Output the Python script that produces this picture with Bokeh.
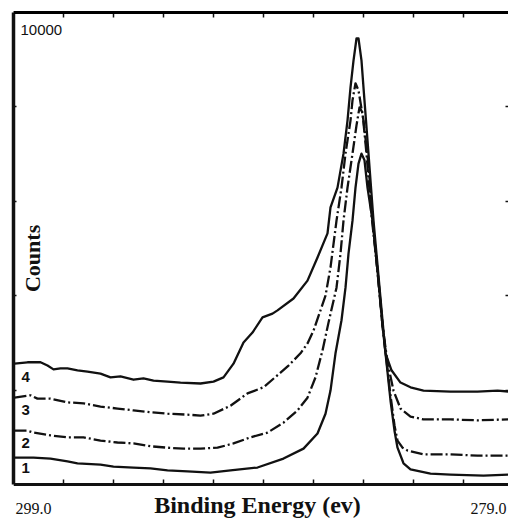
import math

from bokeh.embed import file_html
from bokeh.models import FixedTicker, Label, LinearAxis, Range1d, Span
from bokeh.plotting import figure
from bokeh.resources import INLINE

# C 1s spectra, binding energy (eV) vs counts, four stacked traces
energy_1 = [298.96, 298.2, 297.52, 296.84, 296.44, 295.52, 295.0, 294.2, 293.52, 292.84,
            292.04, 291.12, 290.32, 289.24, 288.2, 287.4, 286.84, 286.52, 286.32, 286.12,
            285.88, 285.72, 285.6, 285.44, 285.32, 285.2, 285.08, 284.96, 284.84, 284.64,
            284.4, 284.24, 284.08, 283.92, 283.76, 283.64, 283.4, 283.12, 282.32, 281.52,
            280.2, 279.2]
counts_1 = [570, 570, 550, 490, 450, 420, 380, 360, 340, 300,
            280, 250, 300, 360, 550, 760, 1080, 1500, 1990, 2780,
            3480, 4170, 4890, 5590, 6290, 6800, 7010, 6870, 6290, 5590,
            4320, 3370, 2590, 1780, 1140, 780, 450, 320, 230, 210,
            190, 210]

energy_2 = [298.96, 298.44, 298.2, 297.52, 296.84, 296.2, 295.52, 294.84, 294.2, 293.52,
            292.84, 292.2, 291.52, 290.84, 290.2, 289.52, 288.84, 288.2, 287.64, 287.24,
            286.92, 286.64, 286.4, 286.08, 285.92, 285.8, 285.64, 285.44, 285.28, 285.16,
            285.04, 284.88, 284.68, 284.44, 284.24, 284.08, 283.92, 283.76, 283.64, 283.44,
            283.24, 282.6, 281.52, 280.44, 279.2]
counts_2 = [1140, 1140, 1100, 1040, 1000, 1000, 930, 890, 870, 810,
            780, 760, 760, 780, 870, 1000, 1100, 1310, 1570, 1840,
            2270, 2840, 3430, 4170, 4890, 5590, 6290, 7010, 7610, 7990,
            7880, 7010, 5700, 4530, 3370, 2630, 1890, 1250, 930, 780,
            720, 640, 640, 610, 610]

energy_3 = [298.96, 298.32, 298.04, 297.52, 296.84, 296.2, 295.52, 294.84, 294.2, 293.52,
            292.84, 292.04, 291.52, 291.0, 290.32, 289.64, 289.0, 288.32, 288.0, 287.52,
            287.24, 287.0, 286.72, 286.52, 286.32, 286.08, 285.88, 285.72, 285.52, 285.44,
            285.32, 285.2, 285.0, 284.8, 284.6, 284.24, 284.04, 283.8, 283.52, 283.12,
            282.6, 281.52, 280.44, 279.2]
counts_3 = [1840, 1890, 1820, 1820, 1740, 1720, 1650, 1610, 1570, 1530,
            1500, 1480, 1460, 1500, 1670, 1930, 2060, 2370, 2520, 2780,
            2990, 3260, 3690, 4000, 4600, 5590, 6290, 7010, 7710, 8140,
            8500, 8350, 7710, 6760, 5420, 3370, 2590, 1990, 1610, 1440,
            1380, 1380, 1360, 1380]

energy_4 = [298.96, 298.44, 297.92, 297.64, 297.4, 297.12, 296.84, 296.44, 296.04, 295.52,
            295.12, 294.72, 294.2, 293.8, 293.4, 292.84, 292.32, 291.52, 291.0, 290.6,
            290.2, 289.8, 289.44, 289.04, 288.64, 288.44, 287.8, 287.24, 286.84, 286.44,
            286.32, 286.04, 285.8, 285.64, 285.52, 285.4, 285.28, 285.2, 285.08, 285.0,
            284.8, 284.6, 284.24, 284.12, 283.88, 283.52, 283.12, 282.6, 281.52, 280.44,
            279.64, 279.2]
counts_4 = [2560, 2590, 2590, 2520, 2440, 2460, 2460, 2420, 2390, 2350,
            2270, 2290, 2220, 2250, 2200, 2180, 2160, 2140, 2180, 2270,
            2560, 3010, 3220, 3540, 3620, 3690, 3940, 4320, 4810, 5320,
            5870, 6290, 7010, 7710, 8410, 8980, 9450, 9450, 8980, 8410,
            7010, 5590, 3480, 2780, 2420, 2160, 2060, 1990, 1970, 1970,
            1990, 1970]

trace_names = ["1", "2", "3", "4"]
x_ticks = [297, 295, 293, 291, 289, 287, 285, 283, 281]
y_ticks = [2000, 4000, 6000, 8000]
y_max = 10000
y_max_label = "10000"
x_start_label = "299.0"
x_end_label = "279.0"

INK = "#111111"

# the frame reaches past the 0..10000 box on every side so that the box edges
# and the energy-axis texts all lie inside it
p = figure(width=508, height=518,
           x_range=Range1d(299.0, 279.2), y_range=Range1d(-720, 10064),
           x_axis_location=None, y_axis_location=None,
           output_backend="svg", toolbar_location=None,
           min_border_left=13, min_border_right=0,
           min_border_top=9, min_border_bottom=0)
p.title.visible = False
p.outline_line_color = None
p.xgrid.grid_line_color = None
p.ygrid.grid_line_color = None
p.background_fill_color = "white"
p.border_fill_color = "white"


def frame_axis(side, ticks, line_width, line_alpha=1.0, tick_len=5, **extra):
    ax = LinearAxis(ticker=FixedTicker(ticks=ticks),
                    major_label_text_font_size="0px", major_label_standoff=0,
                    major_label_text_color=None,
                    major_tick_in=tick_len, major_tick_out=0,
                    minor_tick_in=0, minor_tick_out=0,
                    axis_line_color=INK, axis_line_width=line_width,
                    axis_line_alpha=line_alpha,
                    major_tick_line_color=INK, major_tick_line_width=1.5, **extra)
    p.add_layout(ax, side)
    return ax


frame_axis("below", x_ticks, 3, fixed_location=0)
frame_axis("above", x_ticks, 3, fixed_location=y_max)
frame_axis("left", y_ticks, 3.5, tick_len=3, bounds=(0, y_max))
frame_axis("right", y_ticks, 1, line_alpha=0.0, tick_len=3, bounds=(0, y_max))

# top edge of the box, drawn above everything else
p.add_layout(Span(location=y_max, dimension="width", line_color="#000000",
                  line_width=3, level="overlay"))

# traces: 1 and 4 solid, 2 and 3 dash-dot
series = [(energy_1, counts_1, "solid", "round"),
          (energy_2, counts_2, "12 3 2 3", "butt"),
          (energy_3, counts_3, "12 3 2 3", "butt"),
          (energy_4, counts_4, "solid", "round")]
for xs, ys, dash, cap in series:
    p.line(xs, ys, line_color=INK, line_width=2.3, line_dash=dash,
           line_join="round", line_cap=cap)

# trace numbers at the left end of each trace
label_counts = [340, 870, 1570, 2270]
for name, yv in zip(trace_names, label_counts):
    p.add_layout(Label(x=298.68, y=yv, text=name, text_font="Liberation Sans",
                       text_font_style="bold", text_font_size="15px",
                       text_color=INK, text_align="left", text_baseline="middle"))

p.add_layout(Label(x=298.72, y=9740, text=y_max_label, text_font="Liberation Sans",
                   text_font_size="15px", text_color=INK,
                   text_align="left", text_baseline="top"))

p.add_layout(Label(x=298.24, y=4790, text="Counts", angle=math.pi / 2,
                   text_font="Liberation Serif", text_font_style="bold",
                   text_font_size="22px", text_color=INK,
                   text_align="center", text_baseline="middle"))

p.add_layout(Label(x=289.24, y=-424, text="Binding Energy (ev)",
                   text_font="Liberation Serif", text_font_style="bold",
                   text_font_size="24px", text_color=INK,
                   text_align="center", text_baseline="middle"))
p.add_layout(Label(x=298.92, y=-500, text=x_start_label,
                   text_font="Liberation Serif", text_font_size="16px",
                   text_color=INK, text_align="left", text_baseline="middle"))
p.add_layout(Label(x=279.28, y=-500, text=x_end_label,
                   text_font="Liberation Serif", text_font_size="16px",
                   text_color=INK, text_align="right", text_baseline="middle"))

open("out.html", "w").write(file_html(p, INLINE))
